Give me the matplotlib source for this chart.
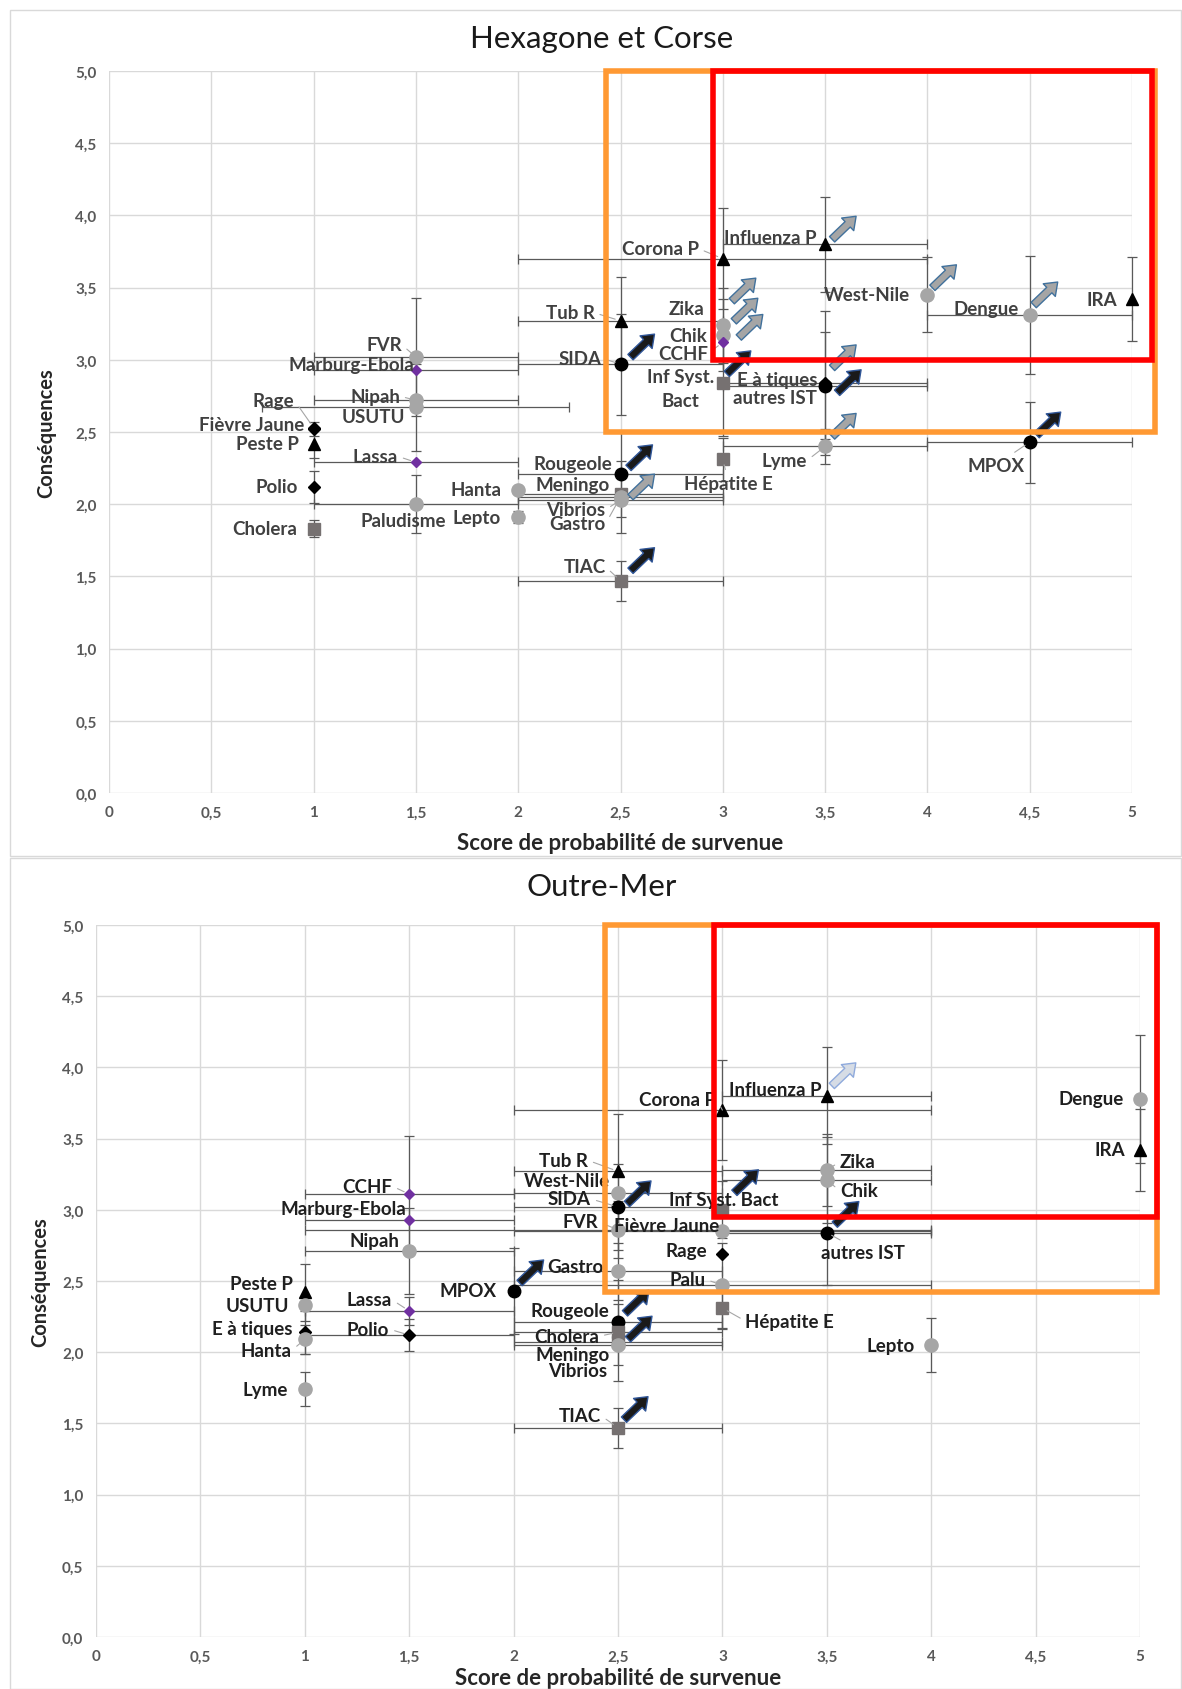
import numpy as np
import matplotlib
matplotlib.use('Agg')
import matplotlib.pyplot as plt
from matplotlib.patches import Rectangle, FancyArrowPatch, ArrowStyle

plt.rcParams['font.family'] = ['Lato', 'DejaVu Sans']

# ---- Hexagone et Corse ----
top_names = ["IRA", "Dengue", "West-Nile", "Influenza P", "Corona P", "Tub R", "Zika", "Chik", "CCHF",
             "SIDA", "Inf Syst.\nBact", "E à tiques", "autres IST", "Lyme", "Hépatite E", "MPOX",
             "Rougeole", "Meningo", "Gastro", "Vibrios", "TIAC", "Hanta", "Lepto", "FVR",
             "Marburg-Ebola", "Nipah", "USUTU", "Rage", "Fièvre Jaune", "Peste P", "Lassa",
             "Polio", "Paludisme", "Cholera"]
top_prob = [5, 4.5, 4, 3.5, 3, 2.5, 3, 3, 3, 2.5, 3, 3.5, 3.5, 3.5, 3, 4.5, 2.5, 2.5, 2.5, 2.5,
            2.5, 2, 2, 1.5, 1.5, 1.5, 1.5, 1, 1, 1, 1.5, 1, 1.5, 1]
top_cons = [3.42, 3.31, 3.45, 3.80, 3.70, 3.27, 3.24, 3.17, 3.12, 2.97, 2.84, 2.84, 2.82, 2.40,
            2.31, 2.43, 2.21, 2.07, 2.05, 2.03, 1.47, 2.10, 1.91, 3.02, 2.93, 2.72, 2.67, 2.53,
            2.52, 2.42, 2.29, 2.12, 2.00, 1.83]
top_xerr = [0, 0.5, 0, 0.5, 1.0, 0.5, 0, 0, 0, 0.5, 0, 0.5, 0.5, 0.5, 0, 0.5, 0.5, 0.5, 0.5, 0.5,
            0.5, 0, 0, 0.5, 0.5, 0.5, 0.75, 0, 0, 0, 0.5, 0, 0.5, 0]
top_yerr = [0.29, 0.41, 0.26, 0.33, 0.35, 0.30, 0.26, 0.25, 0, 0.35, 0.37, 0.5, 0.37, 0.12, 0.15,
            0.28, 0.30, 0, 0.25, 0, 0.14, 0, 0.04, 0.41, 0, 0, 0.30, 0, 0.05, 0.10, 0, 0.11,
            0.20, 0.06]
top_kind = ['tri', 'circ', 'circ', 'tri', 'tri', 'tri', 'circ', 'circ', 'pur', 'dot', 'sq', 'dia',
            'dot', 'circ', 'sq', 'dot', 'dot', 'sq', 'circ', 'circ', 'sq', 'circ', 'circ', 'circ',
            'pur', 'circ', 'circ', 'dia', 'dia', 'tri', 'pur', 'dia', 'circ', 'sq']
top_arrow_on = ['Influenza P', 'Zika', 'Chik', 'CCHF', 'West-Nile', 'Dengue', 'E à tiques',
                'autres IST', 'Lyme', 'MPOX', 'SIDA', 'Inf Syst.\nBact', 'Rougeole', 'Meningo', 'TIAC']
top_arrow_fill = ['gray', 'gray', 'gray', 'gray', 'gray', 'gray', 'gray',
                  'black', 'gray', 'black', 'black', 'black', 'black', 'gray', 'black']
top_orange = [2.43, 5.11, 2.5, 5.0]
top_red = [2.95, 5.1, 3.0, 5.0]

# label layout (pixels from the point), alignment, leader line
top_lab = [(-15, 0, 'r', 0), (-11, 7, 'r', 0), (-17, 0, 'r', 0), (-9, 7, 'r', 0), (-24, 10, 'r', 1),
           (-26, 8, 'r', 1), (-18, 17, 'r', 0), (-16, 0, 'r', 0), (-15, -11, 'r', 1), (-19, 6, 'r', 1),
           (-42, -6, 'c', 0), (-8, 3, 'r', 0), (-8, -12, 'r', 0), (-18, -14, 'r', 1), (6, -24, 'c', 1),
           (-34, -23, 'c', 1), (-8, 10, 'r', 0), (-11, 10, 'r', 0), (-15, -27, 'r', 1), (-15, -10, 'r', 1),
           (-15, 14, 'r', 1), (-17, 0, 'r', 0), (-17, 0, 'r', 0), (-14, 12, 'r', 1), (-2, 5, 'r', 0),
           (-16, 4, 'r', 1), (-11, -9, 'r', 0), (-19, 27, 'r', 1), (-9, 5, 'r', 0), (-15, 0, 'r', 0),
           (-18, 6, 'r', 1), (-16, 0, 'r', 0), (-13, -16, 'c', 0), (-16, 0, 'r', 0)]
top_arrow_off = [(7, 5), (9, 24), (11, 14), (16, 5), (5, 7), (4, 10), (7, 15),
                 (12, -7), (7, 10), (7, 7), (10, 7), (4, 9), (8, 6), (10, -3), (10, 10)]

# ---- Outre-Mer ----
bot_names = ["Dengue", "IRA", "Influenza P", "Corona P", "Tub R", "Zika", "Chik", "West-Nile", "SIDA",
             "Inf Syst. Bact", "FVR", "Fièvre Jaune", "autres IST", "Rage", "Palu", "Gastro", "MPOX",
             "CCHF", "Marburg-Ebola", "Nipah", "Lassa", "Polio", "Peste P", "USUTU", "E à tiques",
             "Hanta", "Lyme", "Rougeole", "Cholera", "Meningo", "Vibrios", "Hépatite E", "Lepto", "TIAC"]
bot_prob = [5, 5, 3.5, 3, 2.5, 3.5, 3.5, 2.5, 2.5, 3, 2.5, 3, 3.5, 3, 3, 2.5, 2, 1.5, 1.5, 1.5,
            1.5, 1.5, 1, 1, 1, 1, 1, 2.5, 2.5, 2.5, 2.5, 3, 4, 2.5]
bot_cons = [3.78, 3.42, 3.80, 3.70, 3.27, 3.28, 3.21, 3.12, 3.02, 3.00, 2.86, 2.85, 2.84, 2.69,
            2.47, 2.57, 2.43, 3.11, 2.93, 2.71, 2.29, 2.12, 2.42, 2.33, 2.14, 2.09, 1.74, 2.21,
            2.14, 2.07, 2.05, 2.31, 2.05, 1.47]
bot_xerr = [0, 0, 0.5, 1.0, 0.5, 0.5, 0.5, 0.5, 0.5, 0, 1.5, 1.0, 0.5, 0, 1.0, 0.5, 0, 0.5, 0.5,
            0.5, 0.5, 0.5, 0, 0, 0, 0, 0, 0.5, 0.5, 0.5, 0.5, 0, 0, 0.5]
bot_yerr = [0.45, 0.29, 0.34, 0.35, 0.40, 0.25, 0.30, 0, 0.30, 0.20, 0.20, 0, 0.37, 0, 0.30, 0.20,
            0.30, 0.41, 0, 0.30, 0.10, 0.11, 0.20, 0, 0.15, 0.10, 0.12, 0.30, 0, 0.27, 0, 0.15,
            0.19, 0.14]
bot_kind = ['circ', 'tri', 'tri', 'tri', 'tri', 'circ', 'circ', 'circ', 'dot', 'sq', 'circ', 'circ',
            'dot', 'dia', 'circ', 'circ', 'dot', 'pur', 'pur', 'circ', 'pur', 'dia', 'tri', 'circ',
            'dia', 'circ', 'circ', 'dot', 'sq', 'sq', 'circ', 'sq', 'circ', 'sq']
bot_arrow_on = ['Influenza P', 'SIDA', 'Inf Syst. Bact', 'autres IST', 'MPOX', 'Rougeole',
                'Meningo', 'TIAC']
bot_arrow_fill = ['light', 'black', 'black', 'black', 'black', 'black', 'black', 'black']
bot_orange = [2.44, 5.08, 2.42, 5.0]
bot_red = [2.96, 5.08, 2.95, 5.0]

bot_lab = [(-16, 0, 'r', 0), (-15, 0, 'r', 0), (-5, 6, 'r', 0), (-6, 11, 'r', 1), (-30, 11, 'r', 1),
           (13, 8, 'l', 1), (13, -11, 'l', 1), (-8, 12, 'r', 0), (-27, 8, 'r', 1), (1, 10, 'c', 0),
           (-20, 8, 'r', 1), (-3, 6, 'r', 0), (36, -20, 'c', 1), (-15, 3, 'r', 0), (-17, 6, 'r', 1),
           (-15, 5, 'r', 0), (-17, 0, 'r', 0), (-17, 8, 'r', 1), (-3, 11, 'r', 0), (-10, 11, 'r', 0),
           (-17, 11, 'r', 1), (-20, 6, 'r', 1), (-12, 9, 'r', 0), (-16, 0, 'r', 0), (-12, 4, 'r', 0),
           (-13, -11, 'r', 1), (-17, 0, 'r', 0), (-9, 12, 'r', 0), (-19, -4, 'r', 1), (-8, -12, 'r', 1),
           (-11, -25, 'r', 0), (23, -13, 'l', 1), (-16, 0, 'r', 0), (-17, 12, 'r', 1)]
bot_arrow_off = [(5, 10), (9, 3), (12, 17), (8, 8), (6, 8), (7, 9), (10, 3), (6, 8)]

MARK = {
    'tri': dict(marker='^', color='black', ms=8.5),
    'circ': dict(marker='o', color='#a6a6a6', ms=9.5),
    'dot': dict(marker='o', color='black', ms=9),
    'sq': dict(marker='s', color='#767171', ms=9),
    'dia': dict(marker='D', color='black', ms=6),
    'pur': dict(marker='D', color='#7030a0', ms=5),
}
ARROW_COL = {'gray': ('#a5a5a5', '#41719c'), 'black': ('#1a1a1a', '#2f5597'),
             'light': ('#d6dce5', '#8faadc')}
HA = {'r': 'right', 'l': 'left', 'c': 'center'}
RELPOS = {'r': (1, 0.5), 'l': (0, 0.5), 'c': (0.5, 0.5)}

W, H = 1182, 1690
fig = plt.figure(figsize=(W / 100, H / 100), dpi=100)

# panel frames
fig.patches.append(Rectangle((10 / W, 1 - 857 / H), 1 - 11 / W, 846 / H, transform=fig.transFigure,
                             fill=False, ec='#d9d9d9', lw=1))
fig.patches.append(Rectangle((10 / W, 0), 1 - 11 / W, 1 - 859 / H, transform=fig.transFigure,
                             fill=False, ec='#d9d9d9', lw=1))

ax1 = fig.add_axes([109 / W, 1 - 794 / H, 1023 / W, 722 / H])
ax2 = fig.add_axes([96 / W, 1 - 1638 / H, 1044 / W, 712 / H])


def panel(ax, names, prob, cons, xerr, yerr, kinds, labs, arr_on, arr_fill, arr_off,
          orange, red, txtcol):
    ax.set_xlim(0, 5)
    ax.set_ylim(0, 5)
    for s in ax.spines.values():
        s.set_visible(False)
    ax.set_xticks(np.arange(0, 5.01, 0.5))
    ax.set_yticks(np.arange(0, 5.01, 0.5))
    ax.set_xticklabels([('%g' % v).replace('.', ',') for v in np.arange(0, 5.01, 0.5)])
    ax.set_yticklabels([('%.1f' % v).replace('.', ',') for v in np.arange(0, 5.01, 0.5)])
    ax.tick_params(length=0, labelsize=11, labelcolor='#595959', pad=9)
    for t in ax.get_xticklabels() + ax.get_yticklabels():
        t.set_fontweight('bold')
    ax.grid(True, color='#d9d9d9', lw=1)
    ax.set_axisbelow(True)
    ax.set_xlabel('Score de probabilité de survenue', fontsize=16, fontweight='bold', color='#262626')
    ax.set_ylabel('Conséquences', fontsize=14.5, fontweight='bold', color='#262626')

    for i in range(len(names)):
        if xerr[i] > 0:
            ax.errorbar(prob[i], cons[i], xerr=xerr[i], fmt='none', ecolor='#595959',
                        elinewidth=0.9, capsize=3.5, capthick=0.9, zorder=2, clip_on=False)
        if yerr[i] > 0:
            ax.errorbar(prob[i], cons[i], yerr=yerr[i], fmt='none', ecolor='#595959',
                        elinewidth=0.9, capsize=3.5, capthick=0.9, zorder=2, clip_on=False)
    for i in range(len(names)):
        st = MARK[kinds[i]]
        ax.plot(prob[i], cons[i], ls='none', marker=st['marker'], ms=st['ms'], color=st['color'],
                mec=st['color'], zorder=4, clip_on=False)
        dx, dy, ha, lead = labs[i]
        ax.annotate(names[i], (prob[i], cons[i]), xytext=(dx, dy), textcoords='offset pixels',
                    ha=HA[ha], va='center', fontsize=13.5, fontweight='bold', color=txtcol,
                    multialignment='center', linespacing=1.5, zorder=5,
                    arrowprops=dict(arrowstyle='-', color='#a6a6a6', lw=0.8, shrinkA=2, shrinkB=4,
                                    relpos=RELPOS[ha])
                    if lead else None)

    # trend arrows
    fig.canvas.draw()
    bb = ax.get_window_extent()
    ppx, ppy = bb.width / 5, bb.height / 5
    style = ArrowStyle.Simple(head_length=0.7, head_width=1.05, tail_width=0.45)
    for nm, fl, (ox, oy) in zip(arr_on, arr_fill, arr_off):
        i = names.index(nm)
        x0, y0 = prob[i] + ox / ppx, cons[i] + oy / ppy
        fc, ec = ARROW_COL[fl]
        ax.add_patch(FancyArrowPatch((x0, y0), (x0 + 24 / ppx, y0 + 23 / ppy), arrowstyle=style,
                                     mutation_scale=12, fc=fc, ec=ec, lw=1, zorder=6,
                                     shrinkA=0, shrinkB=0, clip_on=False))

    # risk zones
    for zone, col in ((orange, '#ff9933'), (red, '#ff0000')):
        ax.add_patch(Rectangle((zone[0], zone[2]), zone[1] - zone[0], zone[3] - zone[2], fill=False,
                               ec=col, lw=4, zorder=10, clip_on=False))


panel(ax1, top_names, top_prob, top_cons, top_xerr, top_yerr, top_kind, top_lab, top_arrow_on,
      top_arrow_fill, top_arrow_off, top_orange, top_red, '#404040')
panel(ax2, bot_names, bot_prob, bot_cons, bot_xerr, bot_yerr, bot_kind, bot_lab, bot_arrow_on,
      bot_arrow_fill, bot_arrow_off, bot_orange, bot_red, '#1f1f1f')

ax1.yaxis.set_label_coords(-0.052, 0.5)
ax1.xaxis.set_label_coords(0.5, -0.054)
ax2.yaxis.set_label_coords(-0.044, 0.5)
ax2.xaxis.set_label_coords(0.5, -0.042)

fig.text(0.509, 1 - 39 / H, 'Hexagone et Corse', ha='center', va='center', fontsize=22.5, color='#1a1a1a')
fig.text(0.509, 1 - 887 / H, 'Outre-Mer', ha='center', va='center', fontsize=22.5, color='#1a1a1a')

fig.savefig('out.png', dpi=100)
